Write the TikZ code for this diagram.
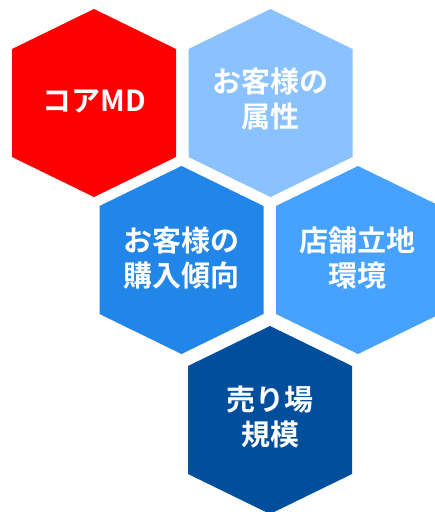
\documentclass[tikz,border=0pt]{standalone}
\usepackage{fontspec}
\newfontfamily\cjk{Noto Sans CJK JP}[BoldFont={Noto Sans CJK JP Bold}]
\definecolor{hexred}{HTML}{FF0000}
\definecolor{hexlight}{HTML}{89C2FF}
\definecolor{hexmid}{HTML}{2186E8}
\definecolor{hexsky}{HTML}{47A2FF}
\definecolor{hexdark}{HTML}{004E9C}
\begin{document}
\begin{tikzpicture}[x=1pt,y=-1pt,
  hexcell/.pic={\fill (0,-94)--(82,-54)--(82,54)--(0,94)--(-82,54)--(-82,-54)--cycle;},
  hexlabel/.style={text=white,align=center,inner sep=0pt,
    font=\cjk\bfseries\fontsize{29}{35}\selectfont}]
\useasboundingbox (0,0) rectangle (435,512);
\clip (0,0) rectangle (435,512);
\fill[white] (0,0) rectangle (435,512);
\pic[fill=hexred]   at (94,103)  {hexcell};
\pic[fill=hexlight] at (270.5,103) {hexcell};
\pic[fill=hexmid]   at (181.5,260) {hexcell};
\pic[fill=hexsky]   at (358,260) {hexcell};
\pic[fill=hexdark]  at (270,420) {hexcell};
\node[hexlabel] (core) at (94,101) {コアMD};
\node[hexlabel] (attr) at (270.5,99) {お客様の\\属性};
\node[hexlabel] (trend) at (181.5,258) {お客様の\\購入傾向};
\node[hexlabel] (store) at (357,258) {店舗立地\\環境};
\node[hexlabel] (floor) at (270,417) {売り場\\規模};
\end{tikzpicture}
\end{document}
